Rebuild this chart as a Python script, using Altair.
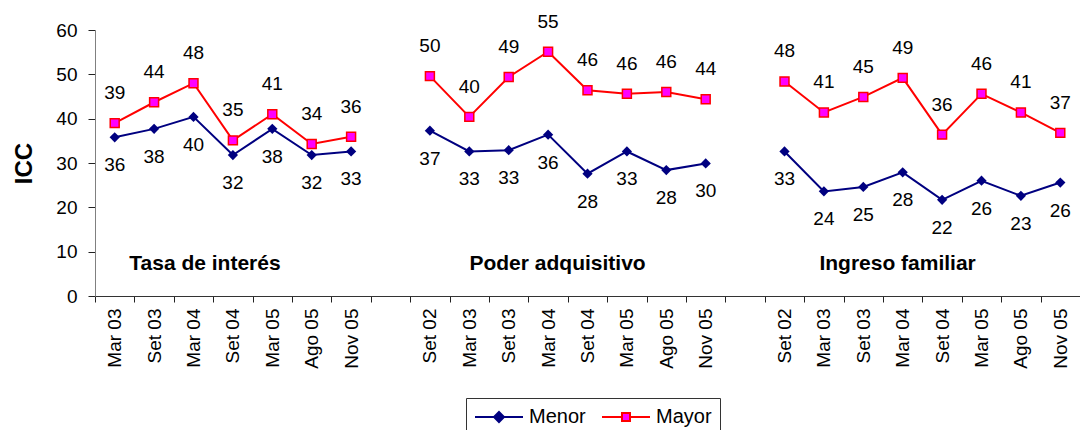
import json
import altair as alt
import pandas as pd

# ---------------- data ----------------
series = ["Menor", "Mayor"]
groups = ["Tasa de interés", "Poder adquisitivo", "Ingreso familiar"]

cats_tasa = ["Mar 03", "Set 03", "Mar 04", "Set 04", "Mar 05", "Ago 05", "Nov 05"]
cats_poder = ["Set 02", "Mar 03", "Set 03", "Mar 04", "Set 04", "Mar 05", "Ago 05", "Nov 05"]
cats_ingreso = ["Set 02", "Mar 03", "Set 03", "Mar 04", "Set 04", "Mar 05", "Ago 05", "Nov 05"]

menor_tasa = [35.8, 37.7, 40.4, 31.8, 37.7, 31.8, 32.6]
mayor_tasa = [39.0, 43.7, 48.0, 35.1, 41.0, 34.3, 35.9]
menor_poder = [37.3, 32.6, 32.9, 36.4, 27.6, 32.6, 28.4, 29.9]
mayor_poder = [49.6, 40.4, 49.4, 55.1, 46.4, 45.6, 46.0, 44.4]
menor_ingreso = [32.6, 23.6, 24.6, 27.9, 21.7, 26.0, 22.6, 25.6]
mayor_ingreso = [48.4, 41.4, 44.9, 49.2, 36.4, 45.6, 41.4, 36.8]

# group caption placement (in category-slot units / ICC units)
caption_x = [2.79, 11.74, 20.37]
caption_y = [7.2, 7.2, 7.2]

y_ticks = [0, 10, 20, 30, 40, 50, 60]

# ---------------- build table ----------------
group_cats = [cats_tasa, cats_poder, cats_ingreso]
group_menor = [menor_tasa, menor_poder, menor_ingreso]
group_mayor = [mayor_tasa, mayor_poder, mayor_ingreso]

rows = []
slot_labels = []
start = 0
for gi, g in enumerate(groups):
    cats = group_cats[gi]
    for j, c in enumerate(cats):
        s = start + j + 0.5
        rows.append({"serie": "Menor", "grupo": g, "fecha": c, "slot": s, "value": group_menor[gi][j]})
        rows.append({"serie": "Mayor", "grupo": g, "fecha": c, "slot": s, "value": group_mayor[gi][j]})
        slot_labels.append(c)
    start += len(cats)
    if gi < len(groups) - 1:
        slot_labels.append("")
        start += 1
n_slots = start
df = pd.DataFrame(rows)
captions = pd.DataFrame({"grupo": groups, "slot": caption_x, "value": caption_y})

NAVY = "#000080"
RED = "#FF0000"
MAGENTA = "#FF00FF"
FONT = "Liberation Sans"

axis_values = [i * 0.5 for i in range(2 * n_slots + 1)]
label_expr = "datum.value % 1 == 0 ? '' : " + json.dumps(slot_labels) + "[floor(datum.value)]"

x_enc = alt.X(
    "slot:Q",
    scale=alt.Scale(domain=[0, n_slots], nice=False, zero=False),
    axis=alt.Axis(
        title=None,
        values=axis_values,
        labelExpr=label_expr,
        labelAngle=270,
        labelOverlap=False,
        labelFlush=False,
        labelFontSize=19,
        labelFont=FONT,
        labelColor="black",
        labelPadding=6,
        tickSize=6,
        tickColor="#222",
        tickOpacity={"condition": {"test": "datum.value % 1 != 0", "value": 0}, "value": 1},
        domainColor="#333",
        grid=False,
    ),
)
y_enc = alt.Y(
    "value:Q",
    scale=alt.Scale(domain=[0, 60], nice=False),
    axis=alt.Axis(
        title="ICC",
        values=y_ticks,
        titleFontSize=24,
        titleFont=FONT,
        titleFontWeight="bold",
        titleColor="black",
        titleAngle=270,
        titleX=-64,
        titleY=133,
        titleAlign="center",
        titleBaseline="alphabetic",
        labelFontSize=19,
        labelFont=FONT,
        labelColor="black",
        labelPadding=11,
        tickSize=7,
        tickColor="#222",
        domainColor="#808080",
        grid=False,
    ),
)

base = alt.Chart(df)
menor = base.transform_filter("datum.serie == 'Menor'")
mayor = base.transform_filter("datum.serie == 'Mayor'")

line_menor = menor.mark_line(strokeWidth=2, color=NAVY).encode(x=x_enc, y=y_enc, detail="grupo:N")
line_mayor = mayor.mark_line(strokeWidth=2, color=RED).encode(x=x_enc, y=y_enc, detail="grupo:N")

pts_menor = menor.mark_point(
    shape="diamond", size=105, filled=True, color=NAVY, opacity=1
).encode(x=x_enc, y=y_enc)

pts_mayor = mayor.mark_point(
    shape="square", size=80, filled=True, fill=MAGENTA, stroke=RED, strokeWidth=1.5, opacity=1
).encode(x=x_enc, y=y_enc)

lbl_mayor = mayor.mark_text(
    dy=-30, fontSize=19, font=FONT, color="black", baseline="middle"
).encode(x=x_enc, y=y_enc, text=alt.Text("value:Q", format=".0f"))

lbl_menor = menor.mark_text(
    dy=28, fontSize=19, font=FONT, color="black", baseline="middle"
).encode(x=x_enc, y=y_enc, text=alt.Text("value:Q", format=".0f"))

cap = alt.Chart(captions).mark_text(
    fontSize=21, font=FONT, fontWeight="bold", color="black", baseline="middle"
).encode(x=x_enc, y=y_enc, text="grupo:N")

# legend symbols: a line with its marker (path units are half the symbol size)
path_menor = "M-1,0L3.8,0M1.4,-0.5L1.9,0L1.4,0.5L0.9,0Z"
path_mayor = "M-1,0L1,0M1.8,0L3.8,0M1,-0.4L1.8,-0.4L1.8,0.4L1,0.4Z"
leg = alt.Legend(
    title=None,
    orient="none",
    legendX=371,
    legendY=368,
    direction="horizontal",
    strokeColor="#333",
    fillColor="white",
    padding=8,
    symbolSize=400,
    symbolStrokeWidth=2,
    symbolOpacity=1,
    labelFontSize=20,
    labelFont=FONT,
    labelColor="black",
    labelOffset=33,
    columnPadding=12,
)
legend_layer = base.transform_filter("datum.value < 0").mark_point(
    filled=True, size=400, opacity=1, strokeWidth=2
).encode(
    x=x_enc,
    y=y_enc,
    shape=alt.Shape("serie:N", scale=alt.Scale(domain=series, range=[path_menor, path_mayor]), legend=leg),
    fill=alt.Fill("serie:N", scale=alt.Scale(domain=series, range=[NAVY, MAGENTA]), legend=leg),
    stroke=alt.Stroke("serie:N", scale=alt.Scale(domain=series, range=[NAVY, RED]), legend=leg),
)

chart = alt.layer(
    line_menor, line_mayor, pts_menor, pts_mayor, lbl_mayor, lbl_menor, cap, legend_layer
).properties(
    width=985,
    height=266,
    autosize=alt.AutoSizeParams(type="none"),
    padding={"left": 87, "top": 22, "right": 0, "bottom": 134},
    background="white",
).configure_view(stroke=None)

chart.save("out.html", embed_options={"renderer": "svg", "actions": False})
